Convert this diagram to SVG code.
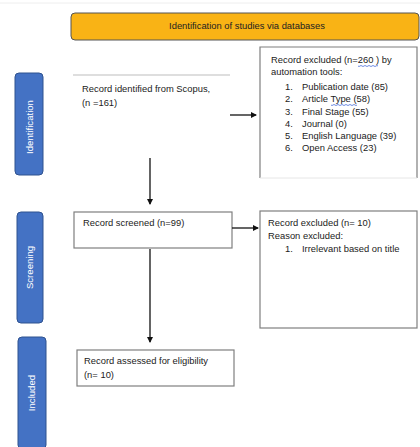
<svg xmlns="http://www.w3.org/2000/svg" width="420" height="447" viewBox="0 0 420 447">
<defs>
<marker id="ah" markerWidth="6" markerHeight="6" refX="5" refY="3" orient="auto" markerUnits="userSpaceOnUse">
<path d="M0,0 L6,3 L0,6 Z" fill="#111"/>
</marker>
<style>
.t{font-family:"Liberation Sans",Arial,sans-serif;font-size:9.4px;fill:#222}
.tab{fill:#4472C4;stroke:#2F528F;stroke-width:1}
.tl{font-family:"Liberation Sans",Arial,sans-serif;font-size:9.6px;fill:#fff;text-anchor:middle}
.box{fill:#fff;stroke:#7f7f7f;stroke-width:1.2}
.c{stroke:#111;stroke-width:1.3;fill:none;marker-end:url(#ah)}
.sq{stroke:#4a6fd8;stroke-width:0.8;fill:none}
</style>
</defs>
<rect width="420" height="447" fill="#fff"/>
<line x1="0" y1="3" x2="420" y2="3" stroke="#eeeeee" stroke-width="1"/>
<g id="header">
<rect x="71" y="13" width="348" height="27" rx="4" fill="#F9B315" stroke="#555" stroke-width="1"/>
<text class="t" x="247" y="28.5" text-anchor="middle" font-size="8.8">Identification of studies via databases</text>
</g>
<g id="tab-identification">
<rect class="tab" x="15" y="73" width="28" height="102" rx="4"/>
<text class="tl" transform="translate(32.5,127) rotate(-90)">Identification</text>
</g>
<g id="tab-screening">
<rect class="tab" x="17" y="212" width="26" height="111" rx="4"/>
<text class="tl" transform="translate(33,267.5) rotate(-90)">Screening</text>
</g>
<g id="tab-included">
<rect class="tab" x="18" y="337" width="28" height="112" rx="4"/>
<text class="tl" transform="translate(35,393) rotate(-90)">Included</text>
</g>
<g id="identified">
<line x1="73" y1="75" x2="230" y2="75" stroke="#bdbdbd" stroke-width="1"/>
<text class="t" x="82" y="92">Record identified from Scopus,</text>
<text class="t" x="82" y="106">(n =161)</text>
</g>
<g id="excluded-auto">
<path d="M260,178 L260,47 L417,47 L417,178" class="box"/>
<line x1="260" y1="178" x2="417" y2="178" stroke="#e6e6e6" stroke-width="1"/>
<text class="t" x="271" y="63">Record excluded (n=260 ) by</text>
<path class="sq" d="M358,66 q1,1 2,0 t2,0 t2,0 t2,0 t2,0 t2,0 t2,0 t2,0 t2,0 t2,0"/>
<text class="t" x="271" y="75">automation tools:</text>
<text class="t" x="285" y="90">1.</text><text class="t" x="302" y="90">Publication date (85)</text>
<text class="t" x="285" y="102">2.</text><text class="t" x="302" y="102">Article Type  (58)</text>
<path class="sq" d="M331,105 q1,1 2,0 t2,0 t2,0 t2,0 t2,0 t2,0 t2,0 t2,0 t2,0 t2,0 t2,0 t2,0 t2,0"/>
<text class="t" x="285" y="115">3.</text><text class="t" x="302" y="115">Final Stage (55)</text>
<text class="t" x="285" y="127">4.</text><text class="t" x="302" y="127">Journal (0)</text>
<text class="t" x="285" y="139">5.</text><text class="t" x="302" y="139">English Language (39)</text>
<text class="t" x="285" y="151">6.</text><text class="t" x="302" y="151">Open Access (23)</text>
</g>
<g id="screened">
<rect class="box" x="74" y="212" width="158" height="36"/>
<text class="t" x="83" y="226">Record screened (n=99)</text>
</g>
<g id="excluded-title">
<rect class="box" x="260" y="211" width="157" height="117"/>
<text class="t" x="268" y="226">Record excluded (n= 10)</text>
<text class="t" x="268" y="239">Reason excluded:</text>
<text class="t" x="285" y="252">1.</text><text class="t" x="302" y="252">Irrelevant based on title</text>
</g>
<g id="eligibility">
<rect class="box" x="77" y="350" width="157" height="36"/>
<text class="t" x="84" y="364">Record assessed for eligibility</text>
<text class="t" x="84" y="378">(n= 10)</text>
</g>
<g id="connectors">
<line class="c" x1="230" y1="115" x2="256" y2="115"/>
<line class="c" x1="150" y1="158" x2="150" y2="204"/>
<line class="c" x1="232" y1="228" x2="258" y2="228"/>
<line class="c" x1="150" y1="249" x2="150" y2="342"/>
</g>
</svg>
